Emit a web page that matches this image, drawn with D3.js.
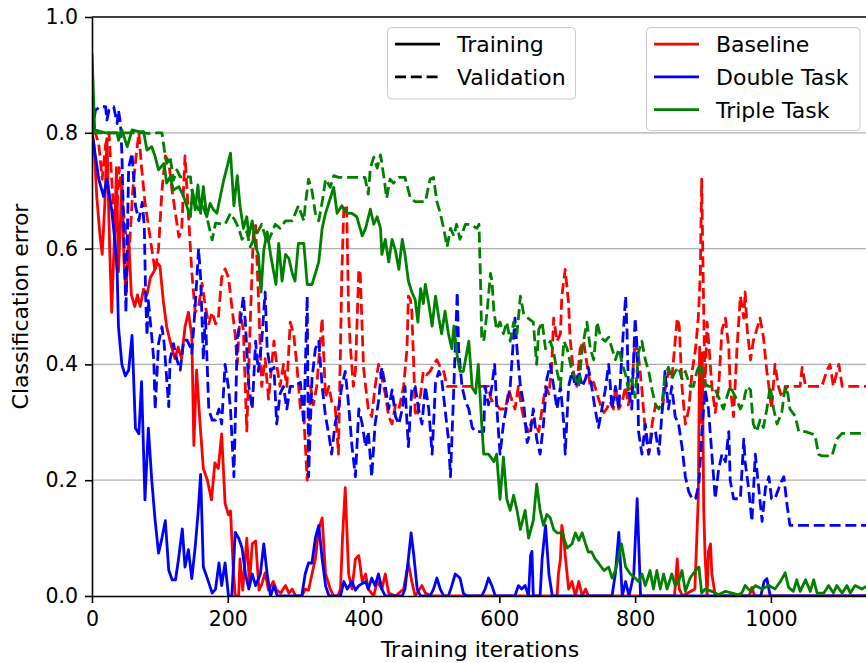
<!DOCTYPE html>
<html>
<head>
<meta charset="utf-8">
<script src="https://cdn.jsdelivr.net/npm/d3@7"></script>
<style>
body { margin: 0; background: #fff; }
text { font-family: "DejaVu Sans", sans-serif; fill: #000; }
</style>
</head>
<body>
<div id="chart"></div>
<script>
// [iteration, error] pairs
var baselineTrain = [[0,0.8],[3,0.78],[7,0.69],[12,0.62],[15,0.59],[19,0.68],[22,0.79],[26,0.6],[29,0.49],[33,0.62],[36,0.74],[39,0.56],[42,0.65],[44,0.72],[47,0.58],[50,0.52],[54,0.62],[58,0.52],[63,0.5],[67,0.52],[71,0.5],[76,0.53],[81,0.52],[86,0.55],[91,0.56],[96,0.575],[100,0.57],[105,0.51],[110,0.465],[115,0.44],[122,0.41],[127,0.43],[132,0.41],[137,0.465],[142,0.49],[147,0.45],[150,0.26],[154,0.39],[159,0.3],[164,0.22],[170,0.2],[176,0.166],[181,0.23],[186,0.22],[191,0.28],[196,0.16],[201,0.14],[204,0.147],[208,0.05],[211,0],[216,0],[218,0.064],[222,0.01],[228,0.1],[232,0.02],[236,0.09],[241,0.095],[246,0.01],[250,0.02],[255,0.04],[260,0.01],[267,0.025],[272,0.01],[278,0.005],[285,0.018],[290,0.005],[295,0.012],[300,0],[309,0],[314,0.012],[319,0.01],[324,0.038],[329,0.064],[334,0.116],[339,0.135],[344,0.038],[351,0.012],[356,0],[362,0],[366,0.012],[369,0.1],[373,0.187],[378,0.038],[383,0.012],[388,0.064],[393,0.07],[398,0.025],[403,0.038],[407,0.012],[415,0],[420,0.025],[427,0.012],[432,0.038],[437,0.005],[447,0],[459,0.012],[466,0.057],[471,0.025],[476,0],[486,0.018],[491,0.005],[500,0],[685,0],[687,0.038],[690,0.064],[692,0.122],[695,0.1],[697,0.07],[702,0.012],[707,0.025],[712,0],[717,0.025],[722,0],[727,0.012],[731,0],[858,0],[862,0.064],[865,0.012],[870,0],[888,0.012],[893,0.168],[895,0.43],[897,0.3],[899,0.42],[901,0.15],[903,0.07],[906,0],[908,0.077],[911,0.09],[913,0.038],[918,0],[968,0],[972,0.015],[976,0],[1143,0]];

var baselineVal = [[0,0.8],[5,0.8],[10,0.78],[15,0.72],[20,0.78],[25,0.8],[30,0.7],[35,0.63],[40,0.74],[45,0.68],[50,0.62],[55,0.6],[60,0.7],[65,0.76],[69,0.8],[73,0.74],[78,0.68],[83,0.64],[88,0.6],[93,0.56],[98,0.6],[103,0.7],[108,0.76],[113,0.75],[118,0.7],[123,0.66],[128,0.62],[132,0.63],[137,0.76],[142,0.66],[147,0.56],[152,0.49],[157,0.5],[162,0.54],[167,0.5],[172,0.47],[177,0.49],[182,0.47],[186,0.48],[191,0.55],[196,0.565],[201,0.55],[206,0.5],[211,0.45],[214,0.4],[218,0.49],[223,0.46],[228,0.285],[233,0.47],[238,0.635],[241,0.64],[245,0.52],[250,0.362],[255,0.41],[260,0.34],[268,0.44],[272,0.4],[277,0.362],[282,0.4],[287,0.362],[292,0.473],[297,0.453],[302,0.395],[307,0.323],[312,0.31],[317,0.2],[322,0.362],[326,0.33],[331,0.362],[339,0.48],[344,0.343],[349,0.362],[353,0.336],[358,0.33],[363,0.245],[366,0.43],[368,0.557],[371,0.674],[375,0.674],[378,0.49],[380,0.44],[385,0.362],[388,0.388],[393,0.564],[395,0.557],[400,0.395],[403,0.362],[407,0.323],[412,0.31],[417,0.362],[422,0.4],[427,0.375],[432,0.349],[437,0.31],[442,0.297],[447,0.33],[452,0.323],[459,0.362],[464,0.427],[466,0.518],[469,0.512],[471,0.492],[474,0.395],[476,0.317],[479,0.31],[484,0.349],[488,0.388],[493,0.382],[498,0.388],[503,0.4],[508,0.408],[513,0.395],[518,0.388],[523,0.362],[584,0.362],[587,0.343],[592,0.33],[596,0.33],[601,0.323],[609,0.323],[614,0.356],[619,0.336],[623,0.323],[628,0.362],[633,0.323],[638,0.297],[643,0.284],[648,0.304],[653,0.297],[658,0.284],[663,0.323],[668,0.362],[673,0.349],[677,0.395],[680,0.48],[685,0.44],[690,0.453],[692,0.518],[697,0.564],[702,0.505],[704,0.447],[709,0.388],[714,0.362],[719,0.427],[724,0.44],[729,0.401],[734,0.362],[739,0.369],[744,0.349],[749,0.33],[754,0.317],[758,0.323],[763,0.336],[768,0.323],[771,0.362],[776,0.323],[781,0.336],[786,0.362],[790,0.33],[795,0.362],[800,0.44],[805,0.414],[810,0.356],[815,0.284],[820,0.245],[825,0.297],[830,0.33],[835,0.323],[840,0.323],[844,0.356],[849,0.388],[854,0.375],[859,0.44],[862,0.48],[865,0.466],[869,0.362],[874,0.297],[879,0.323],[884,0.388],[889,0.427],[893,0.48],[896,0.557],[898,0.72],[901,0.492],[903,0.362],[906,0.473],[909,0.427],[913,0.362],[918,0.317],[923,0.362],[928,0.46],[933,0.48],[938,0.427],[940,0.362],[945,0.31],[950,0.427],[955,0.518],[960,0.48],[962,0.525],[965,0.46],[970,0.408],[974,0.44],[979,0.46],[984,0.48],[989,0.447],[994,0.388],[997,0.362],[1001,0.323],[1006,0.4],[1011,0.362],[1016,0.343],[1024,0.362],[1043,0.362],[1046,0.395],[1051,0.362],[1075,0.362],[1082,0.388],[1087,0.4],[1092,0.362],[1100,0.4],[1105,0.362],[1143,0.362]];

var doubleTrain = [[0,0.8],[5,0.76],[10,0.72],[17,0.69],[22,0.72],[29,0.667],[34,0.61],[37,0.56],[39,0.465],[44,0.4],[49,0.38],[54,0.39],[59,0.45],[64,0.29],[69,0.28],[73,0.37],[78,0.166],[83,0.29],[88,0.2],[93,0.13],[98,0.074],[103,0.1],[108,0.13],[113,0.045],[118,0.028],[123,0.028],[127,0.06],[133,0.116],[137,0.05],[142,0.08],[147,0.03],[152,0.085],[156,0.14],[160,0.21],[164,0.05],[170,0.03],[177,0.005],[182,0.012],[187,0.057],[191,0.018],[196,0.057],[201,0],[206,0],[211,0.11],[216,0.1],[221,0.083],[226,0.038],[231,0.012],[236,0.038],[241,0.018],[248,0.038],[253,0.09],[258,0.038],[263,0],[268,0.018],[273,0],[309,0],[314,0.038],[319,0.057],[324,0.057],[329,0.1],[334,0.122],[339,0.064],[344,0.018],[349,0],[366,0],[371,0.025],[376,0.012],[383,0.025],[388,0.01],[393,0.018],[403,0.025],[407,0.012],[412,0.031],[417,0.018],[422,0.038],[427,0.012],[432,0],[457,0],[461,0.012],[466,0.064],[470,0.109],[474,0.07],[479,0.012],[484,0],[498,0],[503,0.012],[508,0.031],[513,0.012],[518,0],[525,0],[530,0.018],[535,0.038],[542,0.031],[547,0.005],[552,0],[574,0],[579,0.012],[584,0.031],[589,0.018],[594,0],[623,0],[628,0.018],[633,0.012],[638,0.018],[643,0],[646,0.07],[648,0.077],[650,0],[660,0],[663,0.064],[668,0.122],[673,0.038],[678,0],[766,0],[771,0.04],[776,0.11],[781,0],[786,0.025],[791,0],[798,0.038],[803,0.168],[808,0],[985,0],[990,0.025],[994,0.03],[999,0],[1143,0]];

var doubleVal = [[0,0.8],[5,0.839],[12,0.845],[20,0.845],[22,0.822],[25,0.839],[32,0.845],[37,0.816],[39,0.839],[42,0.816],[44,0.765],[47,0.62],[50,0.49],[54,0.74],[59,0.765],[64,0.674],[69,0.648],[74,0.68],[77,0.64],[79,0.52],[81,0.45],[83,0.51],[88,0.448],[91,0.408],[93,0.322],[98,0.436],[103,0.465],[106,0.44],[108,0.408],[113,0.327],[115,0.408],[120,0.436],[125,0.408],[130,0.39],[135,0.442],[140,0.442],[145,0.43],[147,0.419],[152,0.5],[157,0.6],[160,0.55],[164,0.408],[167,0.488],[172,0.322],[177,0.304],[182,0.304],[187,0.323],[191,0.297],[196,0.4],[201,0.36],[204,0.323],[209,0.206],[211,0.3],[214,0.447],[218,0.47],[223,0.518],[226,0.47],[231,0.362],[236,0.323],[241,0.44],[245,0.388],[250,0.44],[255,0.525],[258,0.427],[263,0.388],[268,0.395],[272,0.297],[277,0.349],[282,0.362],[287,0.323],[292,0.362],[299,0.362],[307,0.369],[312,0.297],[317,0.518],[319,0.206],[324,0.375],[329,0.427],[334,0.44],[339,0.362],[344,0.31],[349,0.278],[353,0.245],[358,0.297],[363,0.323],[368,0.362],[373,0.388],[378,0.33],[383,0.258],[388,0.206],[393,0.323],[398,0.297],[403,0.258],[407,0.284],[412,0.206],[417,0.297],[422,0.336],[427,0.395],[432,0.362],[437,0.323],[442,0.356],[447,0.31],[452,0.297],[457,0.323],[461,0.362],[466,0.258],[471,0.356],[476,0.362],[481,0.323],[486,0.297],[491,0.362],[496,0.323],[501,0.245],[506,0.369],[511,0.388],[515,0.375],[520,0.323],[525,0.271],[528,0.206],[533,0.362],[535,0.427],[538,0.525],[540,0.427],[545,0.362],[550,0.336],[555,0.323],[560,0.291],[565,0.284],[577,0.284],[579,0.362],[584,0.33],[589,0.362],[593,0.4],[596,0.33],[601,0.245],[606,0.297],[611,0.33],[616,0.362],[621,0.447],[623,0.48],[626,0.427],[631,0.362],[636,0.33],[641,0.265],[646,0.284],[650,0.323],[655,0.271],[660,0.245],[665,0.297],[670,0.375],[675,0.4],[680,0.362],[685,0.323],[690,0.362],[695,0.297],[697,0.245],[702,0.362],[707,0.388],[712,0.362],[717,0.388],[722,0.362],[727,0.375],[731,0.395],[736,0.362],[741,0.323],[746,0.291],[751,0.323],[756,0.356],[761,0.4],[766,0.323],[771,0.362],[776,0.323],[781,0.427],[786,0.518],[788,0.46],[790,0.362],[795,0.323],[800,0.48],[803,0.427],[805,0.284],[810,0.245],[815,0.297],[820,0.245],[825,0.284],[830,0.284],[835,0.245],[840,0.323],[844,0.388],[849,0.323],[854,0.362],[859,0.31],[864,0.297],[869,0.258],[874,0.206],[879,0.18],[884,0.168],[889,0.168],[894,0.194],[898,0.278],[903,0.356],[908,0.323],[913,0.245],[918,0.168],[923,0.219],[928,0.245],[933,0.232],[938,0.284],[940,0.2],[945,0.168],[955,0.168],[960,0.271],[962,0.232],[967,0.187],[972,0.129],[977,0.245],[982,0.187],[987,0.129],[992,0.187],[997,0.206],[1001,0.168],[1006,0.168],[1014,0.194],[1019,0.206],[1024,0.155],[1028,0.122],[1143,0.122]];

var tripleTrain = [[0,0.937],[4,0.805],[20,0.8],[37,0.8],[39,0.787],[44,0.805],[52,0.776],[59,0.805],[69,0.802],[76,0.802],[81,0.77],[88,0.776],[93,0.759],[98,0.736],[106,0.747],[110,0.713],[115,0.724],[120,0.701],[128,0.707],[135,0.69],[140,0.672],[145,0.655],[148,0.701],[152,0.667],[156,0.71],[160,0.661],[164,0.707],[169,0.655],[174,0.678],[179,0.667],[184,0.661],[189,0.69],[194,0.718],[199,0.741],[204,0.765],[209,0.674],[214,0.726],[218,0.674],[223,0.635],[228,0.655],[231,0.622],[236,0.648],[241,0.603],[245,0.59],[249,0.525],[253,0.597],[258,0.629],[263,0.59],[268,0.557],[271,0.538],[275,0.609],[280,0.544],[285,0.59],[290,0.583],[295,0.557],[299,0.544],[304,0.609],[312,0.609],[317,0.538],[324,0.538],[329,0.557],[334,0.577],[339,0.635],[344,0.661],[351,0.687],[356,0.706],[361,0.661],[368,0.674],[376,0.661],[383,0.661],[390,0.655],[398,0.622],[403,0.635],[410,0.668],[415,0.642],[420,0.655],[425,0.635],[427,0.59],[432,0.616],[437,0.577],[442,0.616],[447,0.596],[452,0.564],[457,0.616],[461,0.59],[466,0.544],[471,0.525],[476,0.512],[480,0.473],[484,0.531],[488,0.505],[491,0.538],[496,0.505],[501,0.466],[506,0.518],[511,0.479],[515,0.453],[520,0.492],[525,0.453],[530,0.427],[533,0.466],[538,0.414],[542,0.388],[547,0.388],[555,0.44],[560,0.36],[565,0.35],[569,0.4],[574,0.297],[577,0.245],[584,0.245],[592,0.232],[596,0.245],[601,0.167],[606,0.24],[611,0.167],[616,0.148],[621,0.174],[626,0.148],[631,0.115],[638,0.148],[643,0.1],[650,0.13],[655,0.193],[660,0.148],[665,0.122],[670,0.141],[675,0.135],[680,0.115],[685,0.109],[692,0.109],[700,0.083],[707,0.09],[712,0.109],[717,0.096],[722,0.109],[727,0.09],[731,0.076],[736,0.076],[741,0.064],[746,0.057],[754,0.044],[761,0.05],[766,0.031],[771,0.044],[776,0.07],[780,0.09],[786,0.05],[793,0.038],[800,0.031],[805,0.025],[810,0.038],[815,0.018],[822,0.044],[827,0.012],[832,0.044],[837,0.012],[842,0.038],[847,0.012],[854,0.038],[859,0.018],[864,0.025],[869,0.044],[874,0.008],[881,0.031],[889,0.044],[894,0.05],[898,0.005],[903,0.012],[913,0.008],[923,0.002],[933,0.008],[943,0.005],[952,0.002],[957,0.005],[962,0.018],[970,0.008],[977,0.018],[987,0.012],[997,0.018],[1006,0.012],[1014,0.025],[1021,0.04],[1026,0.015],[1033,0.008],[1038,0.028],[1043,0.008],[1051,0.028],[1058,0.008],[1063,0.028],[1068,0.005],[1078,0.005],[1085,0.018],[1092,0.005],[1097,0.018],[1105,0.005],[1112,0.018],[1117,0.005],[1124,0.018],[1134,0.012],[1143,0.018]];

var tripleVal = [[0,0.8],[39,0.8],[54,0.8],[74,0.8],[83,0.799],[96,0.8],[103,0.8],[108,0.759],[110,0.747],[115,0.759],[120,0.718],[125,0.736],[130,0.724],[145,0.724],[147,0.701],[152,0.678],[157,0.667],[162,0.678],[169,0.655],[177,0.615],[182,0.644],[196,0.642],[204,0.661],[211,0.648],[216,0.635],[221,0.616],[228,0.629],[233,0.603],[241,0.622],[250,0.642],[258,0.609],[263,0.622],[270,0.642],[277,0.635],[285,0.648],[295,0.648],[304,0.674],[312,0.648],[314,0.674],[319,0.72],[324,0.7],[329,0.661],[334,0.648],[340,0.687],[344,0.72],[351,0.706],[356,0.726],[363,0.723],[402,0.723],[407,0.694],[410,0.739],[415,0.758],[420,0.739],[425,0.762],[430,0.723],[434,0.687],[439,0.72],[444,0.713],[452,0.723],[461,0.723],[469,0.687],[476,0.681],[491,0.681],[498,0.72],[503,0.723],[508,0.681],[513,0.661],[518,0.635],[523,0.603],[528,0.635],[533,0.622],[537,0.642],[542,0.616],[550,0.642],[557,0.642],[567,0.635],[570,0.642],[572,0.557],[574,0.447],[577,0.44],[582,0.492],[587,0.557],[589,0.545],[592,0.492],[596,0.46],[601,0.473],[606,0.453],[611,0.473],[616,0.44],[621,0.473],[626,0.453],[631,0.518],[636,0.486],[643,0.479],[650,0.473],[655,0.4],[658,0.46],[663,0.473],[668,0.427],[675,0.44],[680,0.421],[685,0.388],[690,0.362],[695,0.44],[700,0.427],[707,0.388],[712,0.375],[717,0.362],[722,0.427],[729,0.473],[734,0.427],[739,0.408],[744,0.473],[749,0.447],[756,0.44],[761,0.447],[766,0.427],[771,0.408],[776,0.427],[781,0.401],[786,0.382],[790,0.356],[795,0.375],[800,0.343],[805,0.421],[810,0.44],[815,0.408],[820,0.388],[825,0.356],[830,0.33],[835,0.323],[840,0.336],[844,0.382],[849,0.395],[854,0.375],[859,0.388],[864,0.395],[869,0.375],[874,0.388],[881,0.362],[886,0.362],[891,0.388],[896,0.401],[901,0.369],[908,0.362],[916,0.362],[923,0.343],[930,0.323],[935,0.343],[940,0.362],[948,0.343],[955,0.323],[960,0.336],[962,0.349],[965,0.362],[970,0.356],[974,0.297],[979,0.284],[984,0.304],[989,0.291],[994,0.323],[999,0.362],[1004,0.323],[1009,0.297],[1016,0.317],[1021,0.362],[1025,0.349],[1028,0.323],[1036,0.31],[1041,0.284],[1051,0.284],[1065,0.278],[1070,0.245],[1075,0.242],[1090,0.242],[1097,0.271],[1105,0.281],[1143,0.281]];

var xTicks = [0, 200, 400, 600, 800, 1000];
var yTicks = [0, 0.2, 0.4, 0.6, 0.8, 1.0];
var styleLabels = ["Training", "Validation"];
var modelLabels = ["Baseline", "Double Task", "Triple Task"];
var modelColors = ["#ff0000", "#0000ff", "#008000"];

var width = 866,
    height = 663,
    plotLeft = 92, plotRight = 868, plotTop = 17, plotBottom = 596;

var svg = d3.select("#chart").append("svg")
    .attr("width", width)
    .attr("height", height);

var x = d3.scaleLinear().domain([0, 1143]).range([plotLeft, plotRight]);
var y = d3.scaleLinear().domain([0, 1]).range([plotBottom, plotTop]);

svg.append("clipPath").attr("id", "plot")
  .append("rect")
    .attr("x", plotLeft).attr("y", plotTop)
    .attr("width", plotRight - plotLeft).attr("height", plotBottom - plotTop);

// horizontal grid
svg.append("g").selectAll("line")
    .data(yTicks.slice(1, -1))
  .enter().append("line")
    .attr("x1", plotLeft).attr("x2", plotRight)
    .attr("y1", function(d) { return y(d); })
    .attr("y2", function(d) { return y(d); })
    .attr("stroke", "#b0b0b0")
    .attr("stroke-width", 1.2);

var line = d3.line()
    .x(function(d) { return x(d[0]); })
    .y(function(d) { return y(d[1]); });

var series = [
    {data: baselineTrain, color: modelColors[0], dash: null},
    {data: baselineVal, color: modelColors[0], dash: "11,4.8"},
    {data: doubleTrain, color: modelColors[1], dash: null},
    {data: doubleVal, color: modelColors[1], dash: "11,4.8"},
    {data: tripleTrain, color: modelColors[2], dash: null},
    {data: tripleVal, color: modelColors[2], dash: "11,4.8"}
];

var lines = svg.append("g").attr("clip-path", "url(#plot)");
series.forEach(function(s) {
    lines.append("path")
        .datum(s.data)
        .attr("d", line)
        .attr("fill", "none")
        .attr("stroke", s.color)
        .attr("stroke-width", 2.8)
        .attr("stroke-linejoin", "round")
        .attr("stroke-dasharray", s.dash);
});

// axes
var xAxis = svg.append("g")
    .attr("transform", "translate(0," + plotBottom + ")")
    .call(d3.axisBottom(x).tickValues(xTicks).tickFormat(d3.format("d"))
        .tickSize(7).tickSizeOuter(0).tickPadding(8));
var yAxis = svg.append("g")
    .attr("transform", "translate(" + plotLeft + ",0)")
    .call(d3.axisLeft(y).tickValues(yTicks).tickFormat(d3.format(".1f"))
        .tickSize(7).tickSizeOuter(0).tickPadding(7));

[xAxis, yAxis].forEach(function(a) {
    a.attr("font-family", "DejaVu Sans").attr("font-size", 20.5);
    a.selectAll("path, line").attr("stroke", "#000").attr("stroke-width", 1.6);
    a.selectAll("text").attr("fill", "#000");
});

// top spine
svg.append("line")
    .attr("x1", plotLeft).attr("x2", plotRight)
    .attr("y1", plotTop).attr("y2", plotTop)
    .attr("stroke", "#000").attr("stroke-width", 1.6);

svg.append("text")
    .attr("x", (plotLeft + plotRight) / 2).attr("y", 657)
    .attr("text-anchor", "middle")
    .attr("font-size", 22)
    .text("Training iterations");

svg.append("text")
    .attr("transform", "translate(28," + (plotTop + plotBottom) / 2 + ") rotate(-90)")
    .attr("text-anchor", "middle")
    .attr("font-size", 22)
    .text("Classification error");

// legends
function legend(x0, y0, w, h, items) {
    var g = svg.append("g");
    g.append("rect")
        .attr("x", x0).attr("y", y0)
        .attr("width", w).attr("height", h)
        .attr("rx", 4)
        .attr("fill", "#fff").attr("fill-opacity", 0.8)
        .attr("stroke", "#cccccc").attr("stroke-width", 1);
    items.forEach(function(it, i) {
        var cy = y0 + 16.7 + i * 32.7;
        g.append("line")
            .attr("x1", x0 + 7.5).attr("x2", x0 + 52.5)
            .attr("y1", cy).attr("y2", cy)
            .attr("stroke", it.color)
            .attr("stroke-width", 2.8)
            .attr("stroke-dasharray", it.dash);
        g.append("text")
            .attr("x", x0 + 69.5).attr("y", cy + 8)
            .attr("font-size", 22)
            .text(it.label);
    });
}

legend(387.5, 27.5, 188, 71.5, [
    {label: styleLabels[0], color: "#000", dash: null},
    {label: styleLabels[1], color: "#000", dash: "11,4.8"}
]);
legend(646.5, 27.5, 213.5, 103, modelLabels.map(function(l, i) {
    return {label: l, color: modelColors[i], dash: null};
}));
</script>
</body>
</html>
